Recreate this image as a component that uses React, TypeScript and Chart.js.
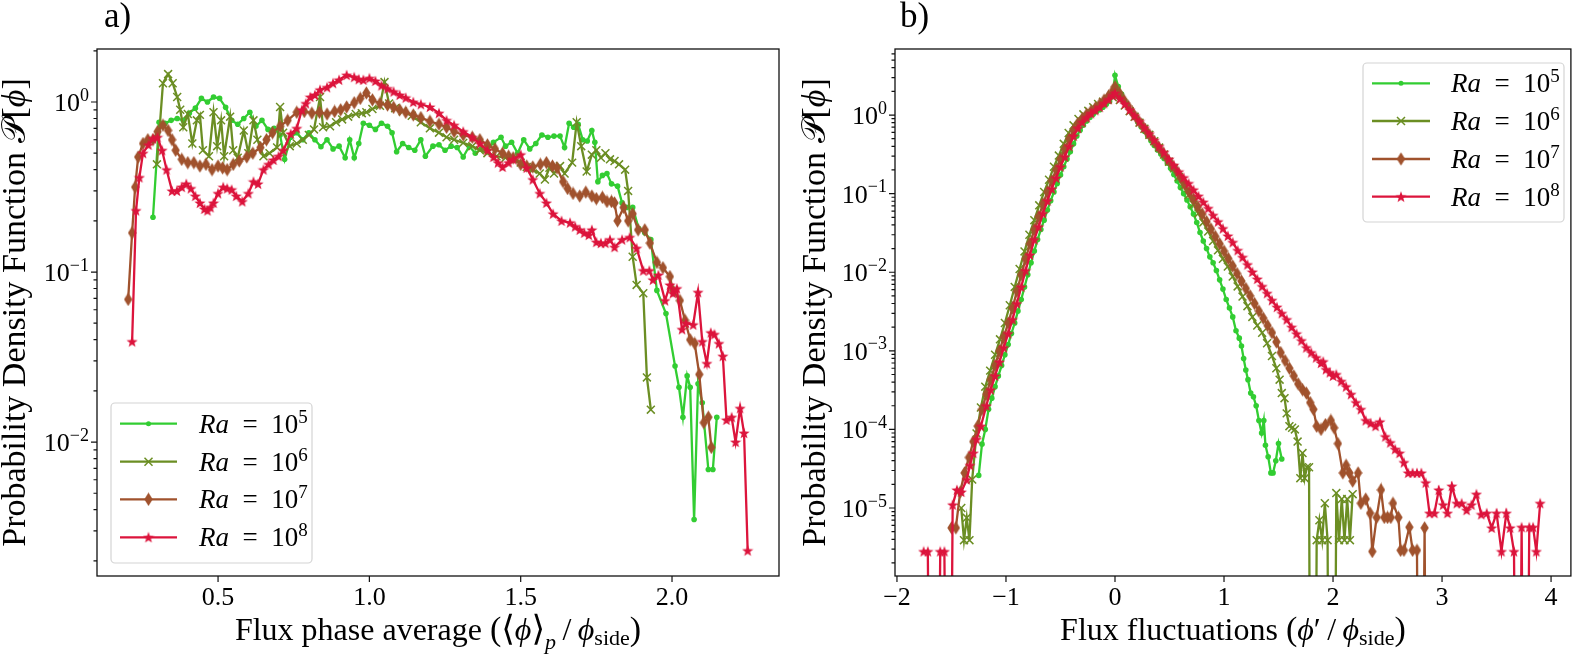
import React, { useEffect, useRef } from "react";
import { Chart, registerables } from "chart.js";

Chart.register(...registerables);

type Pt = [number, number];

// ---------------- Panel a) : PDF of phase-averaged flux ----------------
const A_RA5: Pt[] = [[0.285,0.21],[0.305,0.76],[0.325,0.75],[0.345,0.78],[0.365,0.80],[0.385,0.78],[0.405,0.86],[0.425,0.92],[0.445,1.05],[0.465,1.0],[0.485,1.07],[0.505,1.05],[0.525,0.93],[0.545,0.78],[0.565,0.74],[0.585,0.80],[0.605,0.87],[0.625,0.72],[0.645,0.78],[0.665,0.69],[0.685,0.70],[0.705,0.64],[0.72,0.46],[0.74,0.62],[0.76,0.66],[0.78,0.60],[0.80,0.66],[0.82,0.60],[0.84,0.545],[0.86,0.60],[0.88,0.53],[0.90,0.55],[0.92,0.47],[0.935,0.60],[0.95,0.47],[0.965,0.57],[0.98,0.75],[1.0,0.73],[1.02,0.69],[1.04,0.75],[1.06,0.72],[1.075,0.66],[1.09,0.51],[1.11,0.57],[1.13,0.54],[1.15,0.52],[1.17,0.60],[1.185,0.48],[1.21,0.55],[1.23,0.56],[1.25,0.52],[1.27,0.55],[1.29,0.54],[1.31,0.475],[1.33,0.55],[1.35,0.50],[1.37,0.53],[1.39,0.52],[1.41,0.58],[1.435,0.62],[1.45,0.55],[1.47,0.58],[1.49,0.50],[1.51,0.60],[1.53,0.53],[1.55,0.57],[1.57,0.64],[1.59,0.62],[1.61,0.63],[1.63,0.63],[1.645,0.54],[1.66,0.75],[1.675,0.71],[1.69,0.74],[1.705,0.60],[1.72,0.59],[1.735,0.68],[1.745,0.58],[1.755,0.34],[1.77,0.37],[1.785,0.38],[1.80,0.33],[1.82,0.32],[1.835,0.255],[1.85,0.24],[1.87,0.24],[1.89,0.18],[1.91,0.17],[1.93,0.155],[1.95,0.078],[1.98,0.057],[2.01,0.028],[2.023,0.021],[2.036,0.014],[2.05,0.0245],[2.06,0.021],[2.073,0.0035],[2.086,0.022],[2.10,0.017],[2.12,0.0069],[2.135,0.0069],[2.148,0.014]];

const A_RA6: Pt[] = [[0.298,0.43],[0.318,1.29],[0.335,1.46],[0.35,1.29],[0.365,1.07],[0.375,0.90],[0.385,0.71],[0.40,0.85],[0.415,0.57],[0.43,0.78],[0.44,0.84],[0.45,0.52],[0.47,0.48],[0.485,0.87],[0.497,0.55],[0.51,0.78],[0.52,0.48],[0.54,0.82],[0.55,0.52],[0.565,0.47],[0.585,0.68],[0.60,0.50],[0.617,0.78],[0.63,0.60],[0.65,0.48],[0.67,0.50],[0.695,0.54],[0.705,0.935],[0.715,0.66],[0.737,0.55],[0.76,0.57],[0.78,0.60],[0.80,0.64],[0.817,0.69],[0.837,1.07],[0.847,0.71],[0.87,0.72],[0.89,0.76],[0.91,0.79],[0.93,0.82],[0.955,0.85],[0.975,0.86],[0.99,0.87],[1.01,0.91],[1.035,0.95],[1.05,1.31],[1.065,0.98],[1.085,0.92],[1.11,0.88],[1.14,0.83],[1.17,0.76],[1.20,0.70],[1.23,0.66],[1.255,0.62],[1.28,0.60],[1.31,0.575],[1.34,0.55],[1.365,0.52],[1.39,0.50],[1.42,0.48],[1.45,0.47],[1.475,0.46],[1.50,0.44],[1.52,0.415],[1.54,0.40],[1.563,0.38],[1.58,0.35],[1.595,0.41],[1.61,0.38],[1.63,0.42],[1.645,0.38],[1.67,0.44],[1.685,0.76],[1.70,0.55],[1.718,0.39],[1.735,0.49],[1.75,0.52],[1.765,0.47],[1.78,0.50],[1.795,0.46],[1.81,0.45],[1.825,0.43],[1.845,0.40],[1.855,0.30],[1.87,0.123],[1.883,0.084],[1.905,0.075],[1.917,0.024],[1.93,0.0155]];

const A_RA7: Pt[] = [[0.203,0.069],[0.216,0.17],[0.226,0.316],[0.236,0.475],[0.252,0.57],[0.268,0.60],[0.285,0.60],[0.30,0.67],[0.318,0.73],[0.335,0.68],[0.348,0.60],[0.36,0.52],[0.38,0.46],[0.40,0.44],[0.42,0.44],[0.44,0.42],[0.46,0.43],[0.48,0.40],[0.50,0.42],[0.515,0.41],[0.53,0.40],[0.55,0.43],[0.57,0.45],[0.595,0.475],[0.615,0.50],[0.64,0.54],[0.66,0.60],[0.68,0.66],[0.705,0.72],[0.73,0.78],[0.76,0.87],[0.785,0.88],[0.81,0.86],[0.835,0.87],[0.86,0.85],[0.885,0.88],[0.905,0.90],[0.925,0.935],[0.95,0.99],[0.97,1.05],[0.99,1.13],[1.01,1.03],[1.035,0.98],[1.06,0.96],[1.08,0.93],[1.10,0.90],[1.12,0.87],[1.145,0.84],[1.17,0.81],[1.20,0.77],[1.23,0.74],[1.255,0.71],[1.28,0.67],[1.31,0.64],[1.34,0.62],[1.365,0.60],[1.39,0.56],[1.415,0.53],[1.44,0.50],[1.46,0.48],[1.475,0.47],[1.50,0.43],[1.52,0.42],[1.54,0.415],[1.565,0.43],[1.585,0.44],[1.605,0.42],[1.62,0.41],[1.64,0.34],[1.655,0.31],[1.673,0.29],[1.695,0.28],[1.715,0.295],[1.735,0.28],[1.75,0.27],[1.77,0.275],[1.785,0.26],[1.80,0.26],[1.81,0.255],[1.82,0.20],[1.84,0.24],[1.855,0.20],[1.87,0.22],[1.888,0.177],[1.91,0.177],[1.927,0.148],[1.95,0.114],[1.97,0.106],[1.993,0.094],[2.003,0.078],[2.026,0.068],[2.043,0.052],[2.06,0.040],[2.075,0.038],[2.09,0.025],[2.105,0.013],[2.12,0.014],[2.13,0.0093]];

const A_RA8: Pt[] = [[0.216,0.039],[0.229,0.23],[0.24,0.36],[0.252,0.50],[0.27,0.56],[0.285,0.61],[0.30,0.62],[0.315,0.52],[0.33,0.40],[0.348,0.30],[0.364,0.30],[0.38,0.316],[0.395,0.33],[0.41,0.31],[0.425,0.28],[0.44,0.255],[0.455,0.235],[0.465,0.23],[0.475,0.24],[0.485,0.255],[0.50,0.29],[0.517,0.316],[0.53,0.31],[0.545,0.305],[0.56,0.28],[0.58,0.26],[0.60,0.29],[0.617,0.34],[0.632,0.33],[0.65,0.40],[0.667,0.43],[0.683,0.456],[0.70,0.48],[0.716,0.52],[0.74,0.65],[0.76,0.70],[0.777,0.90],[0.79,0.98],[0.805,1.07],[0.82,1.10],[0.837,1.18],[0.86,1.22],[0.88,1.29],[0.90,1.35],[0.925,1.44],[0.95,1.40],[0.965,1.36],[0.98,1.35],[1.00,1.38],[1.02,1.33],[1.04,1.25],[1.06,1.20],[1.08,1.15],[1.10,1.10],[1.12,1.06],[1.145,1.00],[1.17,0.97],[1.20,0.935],[1.23,0.86],[1.255,0.78],[1.28,0.73],[1.31,0.67],[1.34,0.62],[1.365,0.57],[1.39,0.52],[1.41,0.475],[1.425,0.44],[1.44,0.415],[1.46,0.44],[1.475,0.46],[1.50,0.49],[1.52,0.41],[1.54,0.35],[1.563,0.29],[1.585,0.255],[1.607,0.22],[1.635,0.20],[1.663,0.195],[1.68,0.185],[1.695,0.177],[1.71,0.17],[1.725,0.165],[1.735,0.177],[1.75,0.15],[1.765,0.148],[1.78,0.148],[1.795,0.155],[1.81,0.14],[1.835,0.155],[1.86,0.16],[1.883,0.138],[1.905,0.102],[1.925,0.102],[1.937,0.09],[1.955,0.096],[1.977,0.068],[1.993,0.084],[2.003,0.075],[2.016,0.08],[2.033,0.046],[2.046,0.05],[2.07,0.049],[2.086,0.076],[2.10,0.039],[2.115,0.029],[2.128,0.044],[2.14,0.043],[2.155,0.038],[2.168,0.032],[2.18,0.0135],[2.197,0.014],[2.21,0.010],[2.225,0.0158],[2.238,0.0113],[2.25,0.0023]];

// ---------------- Panel b) : PDF of flux fluctuations (0 = empty bin) ----------------
const B_RA5: Pt[] = [[-1.25,2.6e-5],[-1.22,6.5e-5],[-1.19,1.0e-4],[-1.16,1.8e-4],[-1.13,2.5e-4],[-1.10,3.5e-4],[-1.07,4.8e-4],[-1.04,6.5e-4],[-1.01,8.9e-4],[-0.98,1.2e-3],[-0.95,1.66e-3],[-0.92,2.26e-3],[-0.89,3.2e-3],[-0.86,4.5e-3],[-0.83,6.5e-3],[-0.80,9.3e-3],[-0.77,0.0132],[-0.74,0.0186],[-0.71,0.026],[-0.68,0.035],[-0.65,0.046],[-0.62,0.062],[-0.59,0.081],[-0.56,0.105],[-0.53,0.135],[-0.50,0.172],[-0.47,0.22],[-0.44,0.275],[-0.41,0.34],[-0.38,0.43],[-0.35,0.54],[-0.32,0.64],[-0.29,0.74],[-0.26,0.84],[-0.23,0.93],[-0.20,1.02],[-0.17,1.1],[-0.14,1.17],[-0.11,1.26],[-0.08,1.37],[-0.05,1.5],[-0.02,1.8],[0.0,3.2],[0.03,2.3],[0.06,1.85],[0.09,1.52],[0.12,1.27],[0.15,1.08],[0.18,0.93],[0.21,0.81],[0.24,0.71],[0.27,0.62],[0.30,0.54],[0.33,0.47],[0.36,0.41],[0.39,0.36],[0.42,0.32],[0.45,0.28],[0.48,0.245],[0.51,0.21],[0.54,0.175],[0.57,0.145],[0.60,0.12],[0.63,0.10],[0.66,0.083],[0.69,0.068],[0.72,0.055],[0.75,0.043],[0.78,0.032],[0.81,0.025],[0.84,0.020],[0.87,0.0157],[0.90,0.0132],[0.93,0.0105],[0.96,0.0080],[0.99,0.0061],[1.02,0.0045],[1.05,0.0035],[1.08,0.0027],[1.11,0.0018],[1.14,0.00145],[1.16,0.00115],[1.18,8.0e-4],[1.20,5.7e-4],[1.22,4.3e-4],[1.245,2.9e-4],[1.27,2.6e-4],[1.295,2.0e-4],[1.32,1.3e-4],[1.345,9.0e-5],[1.365,1.3e-4],[1.38,6.3e-5],[1.405,4.5e-5],[1.43,2.8e-5],[1.45,2.8e-5],[1.475,4.0e-5],[1.50,6.6e-5],[1.53,4.2e-5]];

const B_RA6: Pt[] = [[-1.41,1.0e-5],[-1.385,3.9e-6],[-1.36,7.5e-6],[-1.335,3.9e-6],[-1.31,2.3e-5],[-1.27,8.9e-5],[-1.23,1.9e-4],[-1.19,3.5e-4],[-1.145,5.6e-4],[-1.10,8.9e-4],[-1.055,1.4e-3],[-1.01,2.26e-3],[-0.965,3.8e-3],[-0.92,6.5e-3],[-0.875,0.011],[-0.83,0.0184],[-0.785,0.030],[-0.74,0.046],[-0.695,0.071],[-0.65,0.105],[-0.605,0.15],[-0.56,0.22],[-0.515,0.305],[-0.47,0.43],[-0.425,0.59],[-0.38,0.74],[-0.335,0.89],[-0.29,1.02],[-0.245,1.13],[-0.20,1.26],[-0.155,1.38],[-0.11,1.48],[-0.065,1.58],[-0.02,1.68],[0.0,1.75],[0.045,1.55],[0.09,1.32],[0.135,1.12],[0.18,0.95],[0.225,0.80],[0.27,0.67],[0.315,0.56],[0.36,0.465],[0.405,0.385],[0.45,0.315],[0.495,0.255],[0.54,0.21],[0.585,0.163],[0.63,0.125],[0.675,0.096],[0.72,0.073],[0.765,0.056],[0.81,0.043],[0.855,0.033],[0.90,0.025],[0.945,0.019],[0.99,0.0148],[1.035,0.0118],[1.08,0.0088],[1.125,0.0066],[1.17,0.0049],[1.215,0.0037],[1.26,0.0027],[1.305,0.0021],[1.35,0.0017],[1.395,0.00125],[1.44,8.6e-4],[1.48,6.0e-4],[1.51,4.3e-4],[1.53,2.9e-4],[1.555,2.5e-4],[1.575,1.6e-4],[1.60,1.1e-4],[1.625,1.05e-4],[1.65,1.0e-4],[1.675,7.0e-5],[1.70,2.4e-5],[1.72,5.0e-5],[1.74,2.4e-5],[1.76,3.3e-5],[1.78,3.3e-5],[1.80,0],[1.825,0],[1.85,3.9e-6],[1.875,7.0e-6],[1.90,3.9e-6],[1.925,1.15e-5],[1.95,3.9e-6],[1.975,0],[2.00,0],[2.03,1.55e-5],[2.055,3.9e-6],[2.08,1.3e-5],[2.105,3.9e-6],[2.13,1.3e-5],[2.155,3.9e-6],[2.18,1.5e-5]];

const B_RA7: Pt[] = [[-1.50,5.6e-6],[-1.46,5.6e-6],[-1.42,1.6e-5],[-1.38,2.8e-5],[-1.34,4.4e-5],[-1.30,7.0e-5],[-1.26,1.1e-4],[-1.22,1.8e-4],[-1.18,2.8e-4],[-1.14,4.3e-4],[-1.10,6.5e-4],[-1.06,1.0e-3],[-1.02,1.5e-3],[-0.98,2.26e-3],[-0.94,3.5e-3],[-0.90,5.7e-3],[-0.86,9.3e-3],[-0.82,0.0148],[-0.78,0.023],[-0.74,0.035],[-0.70,0.051],[-0.66,0.074],[-0.62,0.105],[-0.58,0.146],[-0.54,0.20],[-0.50,0.275],[-0.46,0.37],[-0.42,0.50],[-0.38,0.64],[-0.34,0.78],[-0.30,0.90],[-0.26,1.02],[-0.22,1.12],[-0.18,1.23],[-0.14,1.37],[-0.10,1.55],[-0.06,1.74],[-0.02,2.05],[0.0,2.29],[0.04,1.9],[0.08,1.56],[0.12,1.3],[0.16,1.08],[0.20,0.91],[0.24,0.77],[0.28,0.65],[0.32,0.55],[0.36,0.46],[0.40,0.39],[0.44,0.33],[0.48,0.275],[0.52,0.235],[0.56,0.20],[0.60,0.162],[0.64,0.13],[0.68,0.105],[0.72,0.085],[0.76,0.068],[0.80,0.055],[0.84,0.044],[0.88,0.0355],[0.92,0.0285],[0.96,0.023],[1.00,0.0185],[1.04,0.0149],[1.08,0.012],[1.12,0.0096],[1.16,0.0077],[1.20,0.0062],[1.24,0.005],[1.28,0.004],[1.32,0.0032],[1.36,0.0026],[1.40,0.0021],[1.44,0.0017],[1.48,0.0013],[1.52,9.5e-4],[1.56,7.5e-4],[1.60,6.0e-4],[1.64,4.8e-4],[1.68,3.8e-4],[1.72,3.2e-4],[1.755,2.9e-4],[1.79,2.2e-4],[1.82,1.8e-4],[1.85,1.1e-4],[1.89,1.0e-4],[1.93,1.15e-4],[1.98,1.3e-4],[2.01,1.05e-4],[2.045,6.6e-5],[2.09,2.8e-5],[2.12,3.5e-5],[2.15,2.8e-5],[2.18,2.2e-5],[2.23,2.8e-5],[2.255,1.15e-5],[2.30,1.3e-5],[2.34,8.6e-6],[2.36,2.8e-6],[2.40,7.6e-6],[2.44,1.7e-5],[2.47,7.6e-6],[2.50,7.6e-6],[2.53,7.6e-6],[2.55,1.15e-5],[2.60,7.6e-6],[2.62,2.9e-6],[2.65,2.9e-6],[2.70,5.7e-6],[2.73,2.9e-6],[2.77,2.9e-6],[2.80,0],[2.84,5.6e-6],[2.87,0]];

const B_RA8: Pt[] = [[-1.755,2.8e-6],[-1.717,2.8e-6],[-1.679,0],[-1.641,0],[-1.603,2.8e-6],[-1.565,2.8e-6],[-1.527,0],[-1.489,1.1e-5],[-1.45,1.7e-5],[-1.41,1.6e-5],[-1.36,2.3e-5],[-1.33,3.5e-5],[-1.30,5.0e-5],[-1.27,7.5e-5],[-1.23,1.1e-4],[-1.18,2.0e-4],[-1.14,3.2e-4],[-1.10,4.8e-4],[-1.06,7.2e-4],[-1.02,1.1e-3],[-0.98,1.66e-3],[-0.94,2.5e-3],[-0.90,4.0e-3],[-0.86,6.5e-3],[-0.82,0.0105],[-0.78,0.0166],[-0.74,0.026],[-0.70,0.038],[-0.66,0.056],[-0.62,0.081],[-0.58,0.115],[-0.54,0.158],[-0.50,0.22],[-0.46,0.295],[-0.42,0.40],[-0.38,0.54],[-0.34,0.68],[-0.30,0.81],[-0.26,0.93],[-0.22,1.05],[-0.18,1.15],[-0.14,1.26],[-0.10,1.41],[-0.06,1.58],[-0.02,1.78],[0.0,1.9],[0.045,1.62],[0.09,1.38],[0.135,1.16],[0.18,0.98],[0.225,0.83],[0.27,0.69],[0.315,0.58],[0.36,0.48],[0.405,0.40],[0.45,0.335],[0.495,0.275],[0.54,0.23],[0.585,0.19],[0.63,0.16],[0.675,0.135],[0.72,0.112],[0.765,0.093],[0.81,0.078],[0.855,0.065],[0.90,0.053],[0.945,0.044],[0.99,0.036],[1.035,0.029],[1.08,0.024],[1.125,0.019],[1.17,0.0155],[1.215,0.0125],[1.26,0.0101],[1.305,0.0082],[1.35,0.0066],[1.395,0.0054],[1.44,0.0044],[1.485,0.0036],[1.53,0.0030],[1.575,0.0025],[1.62,0.0020],[1.665,0.00165],[1.71,0.00135],[1.755,0.0011],[1.80,9.5e-4],[1.845,8.2e-4],[1.89,7.0e-4],[1.91,7.3e-4],[1.935,5.8e-4],[1.97,5.3e-4],[2.00,4.8e-4],[2.03,5.0e-4],[2.075,4.1e-4],[2.12,3.5e-4],[2.165,2.8e-4],[2.21,2.2e-4],[2.255,1.8e-4],[2.30,1.3e-4],[2.345,1.2e-4],[2.39,1.1e-4],[2.43,1.25e-4],[2.48,8.1e-5],[2.525,6.8e-5],[2.57,5.6e-5],[2.61,5.0e-5],[2.65,3.8e-5],[2.69,2.8e-5],[2.73,2.8e-5],[2.77,2.8e-5],[2.81,2.8e-5],[2.85,2.1e-5],[2.885,8.6e-6],[2.93,8.6e-6],[2.97,1.7e-5],[3.01,1.1e-5],[3.05,8.6e-6],[3.09,1.9e-5],[3.135,1.15e-5],[3.18,1.15e-5],[3.225,9.4e-6],[3.27,1.1e-5],[3.315,1.5e-5],[3.36,8.3e-6],[3.41,8.6e-6],[3.455,5.6e-6],[3.50,8.6e-6],[3.545,2.8e-6],[3.59,8.6e-6],[3.625,5.6e-6],[3.66,2.8e-6],[3.695,0],[3.73,5.7e-6],[3.765,0],[3.80,5.7e-6],[3.835,5.7e-6],[3.865,2.8e-6],[3.90,1.15e-5]];

// ---------------- series meta / ticks ----------------
const RA_EXPONENTS = ["5", "6", "7", "8"];
const SERIES_COLORS = ["#32CD32", "#6B8E23", "#A0522D", "#DC143C"];
const SERIES_MARKERS = ["dot", "x", "diamond", "star"];

const A_X_TICKS = [0.5, 1.0, 1.5, 2.0];
const A_X_TICK_LABELS = ["0.5", "1.0", "1.5", "2.0"];
const A_Y_DECADES = [0, -1, -2];
const B_X_TICKS = [-2, -1, 0, 1, 2, 3, 4];
const B_X_TICK_LABELS = ["\u22122", "\u22121", "0", "1", "2", "3", "4"];
const B_Y_DECADES = [0, -1, -2, -3, -4, -5];

const FAMILY = '"Liberation Serif", "DejaVu Serif", "Times New Roman", serif';
const OFF_AXIS = 1e-12; // empty bins (0) drawn below the log axis, as matplotlib does

type Seg = { t: string; it?: boolean; sub?: boolean; sup?: boolean; dy?: number; scale?: number };

function segFont(s: Seg, size: number) {
  let sz = s.sub || s.sup ? size * 0.7 : size;
  if (s.scale) sz *= s.scale;
  return `${s.it ? "italic " : ""}${Math.round(sz)}px ${FAMILY}`;
}

function drawRich(ctx: CanvasRenderingContext2D, segs: Seg[], x: number, y: number, size: number, align: string) {
  let w = 0;
  for (const s of segs) {
    ctx.font = segFont(s, size);
    w += ctx.measureText(s.t).width;
  }
  let cx = align === "left" ? x : align === "center" ? x - w / 2 : x - w;
  ctx.textAlign = "left";
  ctx.textBaseline = "alphabetic";
  for (const s of segs) {
    ctx.font = segFont(s, size);
    const dy = s.dy !== undefined ? s.dy : s.sub ? size * 0.2 : s.sup ? -size * 0.4 : 0;
    ctx.fillText(s.t, cx, y + dy);
    cx += ctx.measureText(s.t).width;
  }
}

function makeMarkerImage(kind: string, color: string): HTMLCanvasElement | null {
  if (kind === "diamond") {
    const c = document.createElement("canvas");
    c.width = 9;
    c.height = 14;
    const g = c.getContext("2d")!;
    g.fillStyle = color;
    g.beginPath();
    g.moveTo(4.5, 0.2);
    g.lineTo(8.7, 7);
    g.lineTo(4.5, 13.8);
    g.lineTo(0.3, 7);
    g.closePath();
    g.fill();
    return c;
  }
  if (kind === "star") {
    const c = document.createElement("canvas");
    c.width = 12;
    c.height = 12;
    const g = c.getContext("2d")!;
    g.fillStyle = color;
    g.beginPath();
    for (let i = 0; i < 10; i++) {
      const a = -Math.PI / 2 + (i * Math.PI) / 5;
      const r = i % 2 === 0 ? 5.9 : 2.4;
      const px = 6 + r * Math.cos(a);
      const py = 6.5 + r * Math.sin(a);
      if (i === 0) g.moveTo(px, py);
      else g.lineTo(px, py);
    }
    g.closePath();
    g.fill();
    return c;
  }
  return null;
}

function drawMarker(ctx: CanvasRenderingContext2D, kind: string, color: string, img: HTMLCanvasElement | null, x: number, y: number) {
  ctx.save();
  if (kind === "dot") {
    ctx.fillStyle = color;
    ctx.beginPath();
    ctx.arc(x, y, 2.5, 0, Math.PI * 2);
    ctx.fill();
  } else if (kind === "x") {
    ctx.strokeStyle = color;
    ctx.lineWidth = 1.5;
    const h = 4;
    ctx.beginPath();
    ctx.moveTo(x - h, y - h);
    ctx.lineTo(x + h, y + h);
    ctx.moveTo(x + h, y - h);
    ctx.lineTo(x - h, y + h);
    ctx.stroke();
  } else if (img) {
    ctx.drawImage(img, x - img.width / 2, y - img.height / 2);
  }
  ctx.restore();
}

interface LegendCfg { x: number; y: number; w: number; h: number; rows: number[]; line0: number; line1: number; textX: number }
interface PanelCfg {
  left: number; width: number; height: number;
  series: Pt[][];
  xMin: number; xMax: number; yMin: number; yMax: number;
  padding: { left: number; right: number; top: number; bottom: number };
  xTicks: number[]; xTickLabels: string[]; yDecades: number[];
  label: string; labelX: number;
  xTitle: Seg[]; yTitleX: number;
  legend: LegendCfg;
}

const Y_TITLE: Seg[] = [
  { t: "Probability Density Function " },
  { t: "\u{1D4AB}" },
  { t: "[" },
  { t: "\u03D5", it: true },
  { t: "]" },
];

const PANEL_A: PanelCfg = {
  left: 0, width: 789, height: 655,
  series: [A_RA5, A_RA6, A_RA7, A_RA8],
  xMin: 0.1, xMax: 2.3535, yMin: 0.00163, yMax: 2.05,
  padding: { left: 97, right: 10, top: 49, bottom: 79 },
  xTicks: A_X_TICKS, xTickLabels: A_X_TICK_LABELS, yDecades: A_Y_DECADES,
  label: "a)", labelX: 104,
  xTitle: [
    { t: "Flux phase average " }, { t: "(", scale: 1.05 }, { t: "\u27E8", scale: 1.1 }, { t: "\u03D5", it: true }, { t: "\u27E9", scale: 1.1 },
    { t: "p", it: true, sub: true, dy: 9 }, { t: "\u2009/\u2009" }, { t: "\u03D5", it: true }, { t: "side", sub: true, dy: 5 }, { t: ")", scale: 1.05 },
  ],
  yTitleX: 25,
  legend: { x: 111, y: 403, w: 201, h: 160, rows: [423.7, 461.7, 499.3, 537.3], line0: 120, line1: 177, textX: 199 },
};

const PANEL_B: PanelCfg = {
  left: 789, width: 789, height: 655,
  series: [B_RA5, B_RA6, B_RA7, B_RA8],
  xMin: -2.018, xMax: 4.182, yMin: 1.365e-6, yMax: 6.92,
  padding: { left: 106, right: 1, top: 49, bottom: 79 },
  xTicks: B_X_TICKS, xTickLabels: B_X_TICK_LABELS, yDecades: B_Y_DECADES,
  label: "b)", labelX: 111,
  xTitle: [
    { t: "Flux fluctuations " }, { t: "(", scale: 1.05 }, { t: "\u03D5", it: true }, { t: "\u2032" }, { t: "\u2009/\u2009" },
    { t: "\u03D5", it: true }, { t: "side", sub: true, dy: 5 }, { t: ")", scale: 1.05 },
  ],
  yTitleX: 36,
  legend: { x: 574, y: 63, w: 201, h: 159, rows: [83.3, 121, 159, 196.7], line0: 583, line1: 641, textX: 662 },
};

function Panel({ cfg }: { cfg: PanelCfg }) {
  const ref = useRef<HTMLCanvasElement | null>(null);

  useEffect(() => {
    const canvas = ref.current;
    if (!canvas) return;
    const images = SERIES_MARKERS.map((k, i) => makeMarkerImage(k, SERIES_COLORS[i]));

    const datasets = cfg.series.map((pts, i) => {
      const kind = SERIES_MARKERS[i];
      const color = SERIES_COLORS[i];
      const ds: any = {
        label: "Ra = 10^" + RA_EXPONENTS[i],
        data: pts.map(([x, y]) => ({ x, y: y > 0 ? y : OFF_AXIS })),
        borderColor: color,
        backgroundColor: color,
        borderWidth: 2.3,
        tension: 0,
        clip: 0,
        order: 3 - i,
        pointBorderColor: color,
        pointBackgroundColor: color,
      };
      if (kind === "dot") {
        ds.pointStyle = "circle";
        ds.pointRadius = 2.8;
        ds.pointBorderWidth = 0;
      } else if (kind === "x") {
        ds.pointStyle = "crossRot";
        ds.pointRadius = 5.6;
        ds.pointBorderWidth = 1.5;
      } else {
        ds.pointStyle = images[i];
        ds.pointRadius = 4;
        ds.pointBorderWidth = 0;
      }
      ds.pointHoverRadius = ds.pointRadius;
      return ds;
    });

    const decor = {
      id: "panelDecor",
      afterDraw(chart: any) {
        const ctx: CanvasRenderingContext2D = chart.ctx;
        const a = chart.chartArea;
        const xs = chart.scales.x;
        const ys = chart.scales.y;
        ctx.save();

        // frame
        ctx.strokeStyle = "#111";
        ctx.lineWidth = 1.3;
        ctx.strokeRect(a.left, a.top, a.right - a.left, a.bottom - a.top);

        // y ticks (log, major + minor)
        const dLo = Math.floor(Math.log10(cfg.yMin));
        const dHi = Math.ceil(Math.log10(cfg.yMax));
        ctx.beginPath();
        for (let d = dLo; d <= dHi; d++) {
          for (let m = 1; m <= 9; m++) {
            const v = m * Math.pow(10, d);
            if (v < cfg.yMin || v > cfg.yMax) continue;
            const py = ys.getPixelForValue(v);
            const len = m === 1 ? 6 : 3.5;
            ctx.moveTo(a.left - len, py);
            ctx.lineTo(a.left, py);
          }
        }
        // x ticks
        for (const t of cfg.xTicks) {
          const px = xs.getPixelForValue(t);
          ctx.moveTo(px, a.bottom);
          ctx.lineTo(px, a.bottom + 6);
        }
        ctx.lineWidth = 1.2;
        ctx.stroke();

        ctx.fillStyle = "#000";
        // y tick labels: 10^k
        for (const d of cfg.yDecades) {
          const py = ys.getPixelForValue(Math.pow(10, d));
          const exp = d === 0 ? "0" : "\u2212" + Math.abs(d);
          drawRich(ctx, [{ t: "10" }, { t: exp, sup: true }], a.left - 8, py + 9, 26, "right");
        }
        // x tick labels
        cfg.xTicks.forEach((t, i) => {
          const px = xs.getPixelForValue(t);
          drawRich(ctx, [{ t: cfg.xTickLabels[i] }], px, a.bottom + 29, 26, "center");
        });

        // axis titles
        drawRich(ctx, cfg.xTitle, (a.left + a.right) / 2, 640, 32, "center");
        ctx.save();
        ctx.translate(cfg.yTitleX, (a.top + a.bottom) / 2);
        ctx.rotate(-Math.PI / 2);
        drawRich(ctx, Y_TITLE, 0, 0, 33.5, "center");
        ctx.restore();

        // panel label
        drawRich(ctx, [{ t: cfg.label }], cfg.labelX, 27, 35, "left");

        // legend
        const L = cfg.legend;
        ctx.save();
        const r = 4;
        ctx.beginPath();
        ctx.moveTo(L.x + r, L.y);
        ctx.arcTo(L.x + L.w, L.y, L.x + L.w, L.y + L.h, r);
        ctx.arcTo(L.x + L.w, L.y + L.h, L.x, L.y + L.h, r);
        ctx.arcTo(L.x, L.y + L.h, L.x, L.y, r);
        ctx.arcTo(L.x, L.y, L.x + L.w, L.y, r);
        ctx.closePath();
        ctx.fillStyle = "rgba(255,255,255,0.8)";
        ctx.fill();
        ctx.strokeStyle = "#d4d4d4";
        ctx.lineWidth = 1.2;
        ctx.stroke();
        ctx.restore();

        L.rows.forEach((ry, i) => {
          const color = SERIES_COLORS[i];
          ctx.save();
          ctx.strokeStyle = color;
          ctx.lineWidth = 2.3;
          ctx.beginPath();
          ctx.moveTo(L.line0, ry);
          ctx.lineTo(L.line1, ry);
          ctx.stroke();
          ctx.restore();
          drawMarker(ctx, SERIES_MARKERS[i], color, images[i], (L.line0 + L.line1) / 2, ry);
          ctx.fillStyle = "#000";
          drawRich(
            ctx,
            [{ t: "Ra", it: true }, { t: "\u2002=\u200210" }, { t: RA_EXPONENTS[i], sup: true, dy: -10 }],
            L.textX, ry + 9, 26.5, "left"
          );
        });

        ctx.restore();
      },
    };

    const chart = new Chart(canvas, {
      type: "line",
      data: { datasets },
      options: {
        responsive: false,
        animation: false,
        devicePixelRatio: 1,
        events: [],
        layout: { padding: cfg.padding },
        plugins: { legend: { display: false }, tooltip: { enabled: false }, title: { display: false } },
        scales: {
          x: { type: "linear", min: cfg.xMin, max: cfg.xMax, display: false },
          y: { type: "logarithmic", min: cfg.yMin, max: cfg.yMax, display: false },
        },
      } as any,
      plugins: [decor],
    });
    return () => chart.destroy();
  }, [cfg]);

  return (
    <canvas
      ref={ref}
      width={cfg.width}
      height={cfg.height}
      style={{ position: "absolute", left: cfg.left, top: 0, width: cfg.width, height: cfg.height, display: "block" }}
    />
  );
}

export default function App() {
  return (
    <div style={{ position: "absolute", left: 0, top: 0, width: 1578, height: 655, background: "#fff", overflow: "hidden" }}>
      <Panel cfg={PANEL_A} />
      <Panel cfg={PANEL_B} />
    </div>
  );
}
